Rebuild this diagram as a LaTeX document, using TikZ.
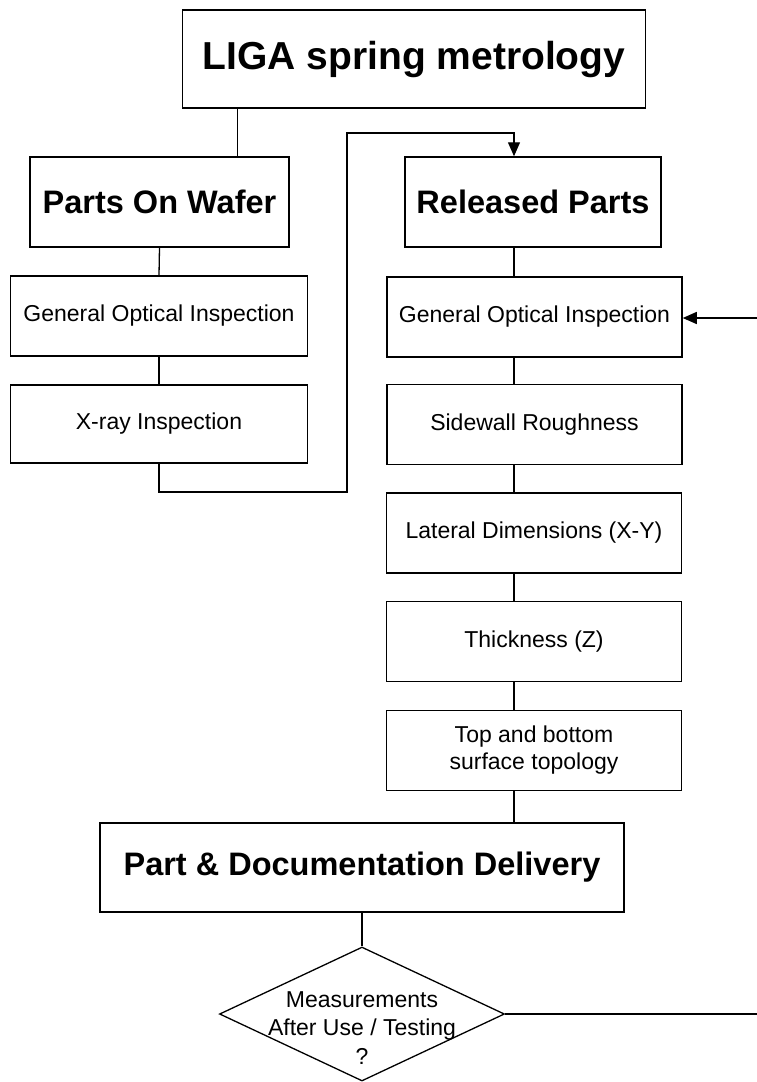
\documentclass[tikz,border=0pt]{standalone}
\usepackage{fontspec}
\setmainfont{Liberation Sans}
\usetikzlibrary{shapes.geometric,arrows.meta}
\begin{document}
\begin{tikzpicture}[x=1pt,y=-1pt,
  bigbox/.style={draw, line width=1.5pt, inner sep=0pt, font=\fontsize{32.5}{38}\selectfont\bfseries},
  smallbox/.style={draw, line width=1.5pt, inner sep=0pt, minimum width=295pt, minimum height=80pt, align=center, font=\fontsize{23}{27}\selectfont},
  plaintext/.style={inner sep=0pt, align=center, font=\fontsize{23}{28.5}\selectfont},
  conn/.style={line width=1.3pt},
  arr/.style={conn, -{Triangle[length=14pt,width=12pt]}}]
\useasboundingbox (0,0) rectangle (757,1082);
% nodes
\node[bigbox, minimum width=463pt, minimum height=98pt, font=\fontsize{39}{44}\selectfont\bfseries] (title) at (414,59) {LIGA spring metrology};
\node[bigbox, minimum width=259pt, minimum height=90pt] (pow) at (159.5,202) {Parts On Wafer};
\node[bigbox, minimum width=256pt, minimum height=90pt] (rel) at (533,202) {Released Parts};
\node[smallbox, minimum width=297pt] (goiL) at (159,316) {General Optical Inspection};
\node[smallbox, minimum width=297pt, minimum height=78pt] (xray) at (159,424) {X-ray Inspection};
\node[smallbox] (goiR) at (534.5,317) {General Optical Inspection};
\node[smallbox] (sw) at (534.5,424.5) {Sidewall Roughness};
\node[smallbox] (lat) at (534,533) {Lateral Dimensions (X-Y)};
\node[smallbox] (thk) at (534,641.5) {Thickness (Z)};
\node[smallbox] (tb) at (534,750.5) {Top and bottom\\surface topology};
\node[bigbox, minimum width=524pt, minimum height=89pt] (del) at (362,867.5) {Part \& Documentation Delivery};
\node[diamond, draw, line width=1.3pt, minimum width=285pt, minimum height=134pt, inner sep=0pt] (dia) at (362,1014) {};
\node[plaintext] (dtext) at (362,1028) {Measurements\\After Use / Testing\\?};
% helper coordinates
\coordinate (xT) at (237.6,0);
\coordinate (xS) at (514,0);
\coordinate (cBot) at (347,492);
\coordinate (cTop) at (347,133);
\coordinate (eA) at (757,318);
\coordinate (eD) at (757,1014);
% connectors
\draw[conn] (title.south -| xT) -- (pow.north -| xT);
\draw[conn] (pow.south) -- (goiL.north);
\draw[conn] (goiL.south) -- (xray.north);
\draw[arr] (xray.south) |- (cBot) -- (cTop) -| (rel.north -| xS);
\draw[conn] (rel.south -| xS) -- (goiR.north -| xS);
\draw[conn] (goiR.south -| xS) -- (sw.north -| xS);
\draw[conn] (sw.south -| xS) -- (lat.north -| xS);
\draw[conn] (lat.south -| xS) -- (thk.north -| xS);
\draw[conn] (thk.south -| xS) -- (tb.north -| xS);
\draw[conn] (tb.south -| xS) -- (del.north -| xS);
\draw[conn] (del.south) -- (dia.north);
\draw[conn] (dia.east) -- (eD);
\draw[arr] (eA) -- (goiR.east |- eA);
\end{tikzpicture}
\end{document}
